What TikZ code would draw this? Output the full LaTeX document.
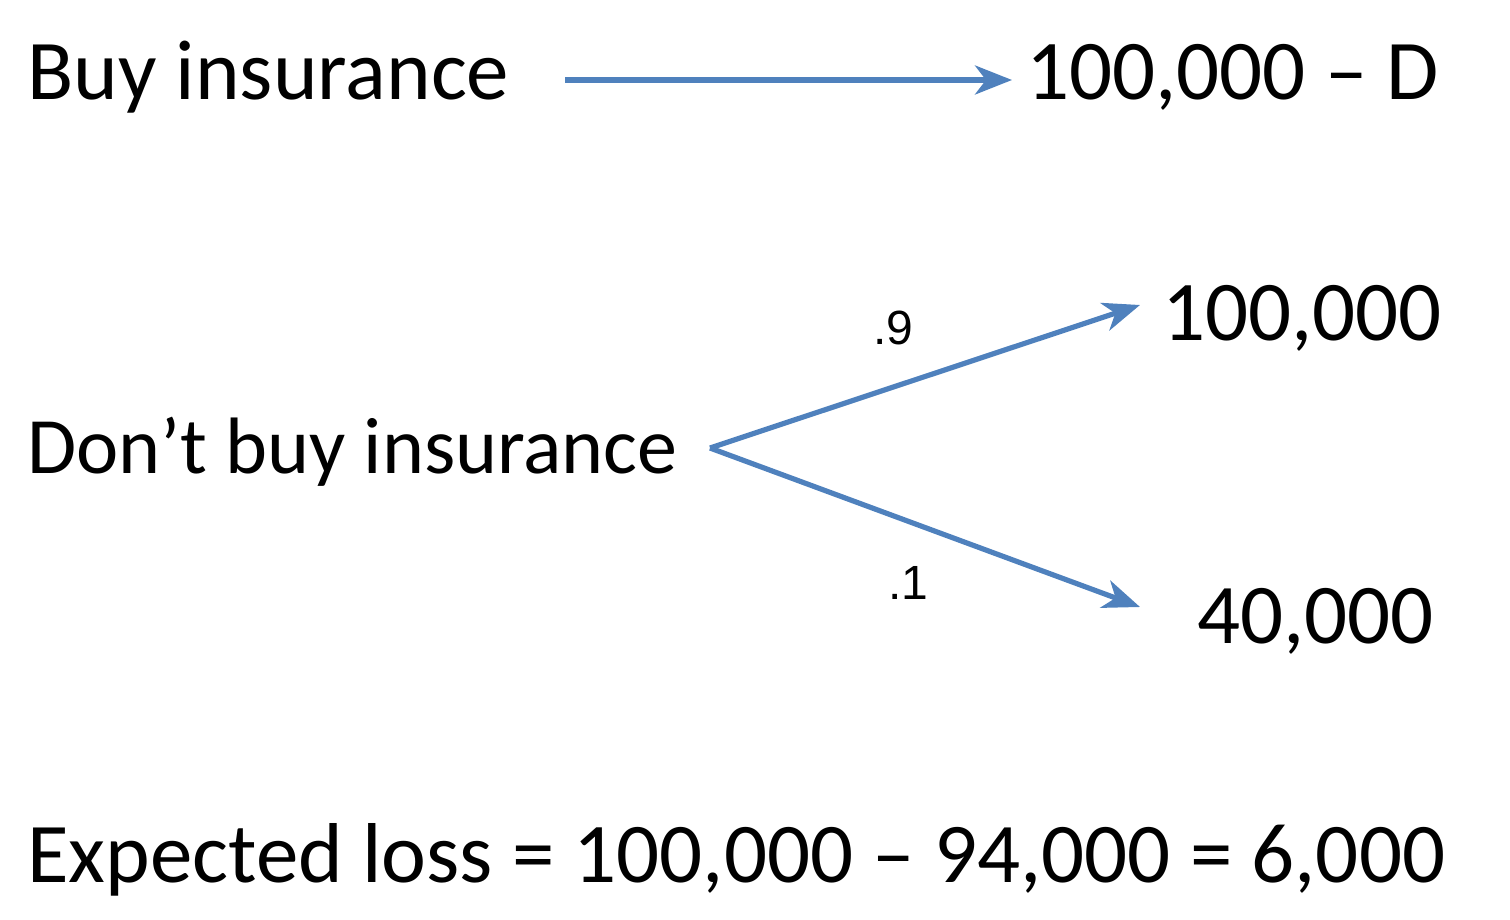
\documentclass[tikz,border=0pt]{standalone}
\usepackage{fontspec}
\setmainfont{Carlito}
\newfontfamily\arialfont{Liberation Sans}
\usetikzlibrary{arrows.meta}
\definecolor{arrowblue}{HTML}{4F81BD}
\tikzset{
  big/.style={inner sep=0pt, anchor=base west, font=\fontsize{85}{100}\selectfont},
  mid/.style={inner sep=0pt, anchor=base west, font=\fontsize{80}{96}\selectfont},
  prob/.style={inner sep=0pt, anchor=base west, font=\arialfont\fontsize{48}{56}\selectfont},
  conn/.style={draw=arrowblue, line width=5.2pt, -{Stealth[length=37pt,width=29pt,inset=11pt]}}
}
\begin{document}
\begin{tikzpicture}[x=1pt,y=-1pt]
\useasboundingbox (0,0) rectangle (1510,920);
\node[big] (buy) at (27,100) {Buy insurance};
\node[big] (res1) at (1026,100) {100,000 -- D};
\node[mid] (dont) at (27,473) {Don’t buy insurance};
\node[big] (res2) at (1162,340) {100,000};
\node[big] (res3) at (1197,643) {40,000};
\node[big] (exp) at (27,882) {Expected loss = 100,000 -- 94,000 = 6,000};
\node[prob] (p9) at (873,344) {.9};
\node[prob] (p1) at (888,599) {.1};
\coordinate (a1s) at (565,80);
\coordinate (a1e) at (1012,80);
\coordinate (fork) at (710,448);
\coordinate (up) at (1140,305);
\coordinate (down) at (1140,607);
\draw[conn] (a1s) -- (a1e);
\draw[conn] (fork) -- (up);
\draw[conn] (fork) -- (down);
\end{tikzpicture}
\end{document}
